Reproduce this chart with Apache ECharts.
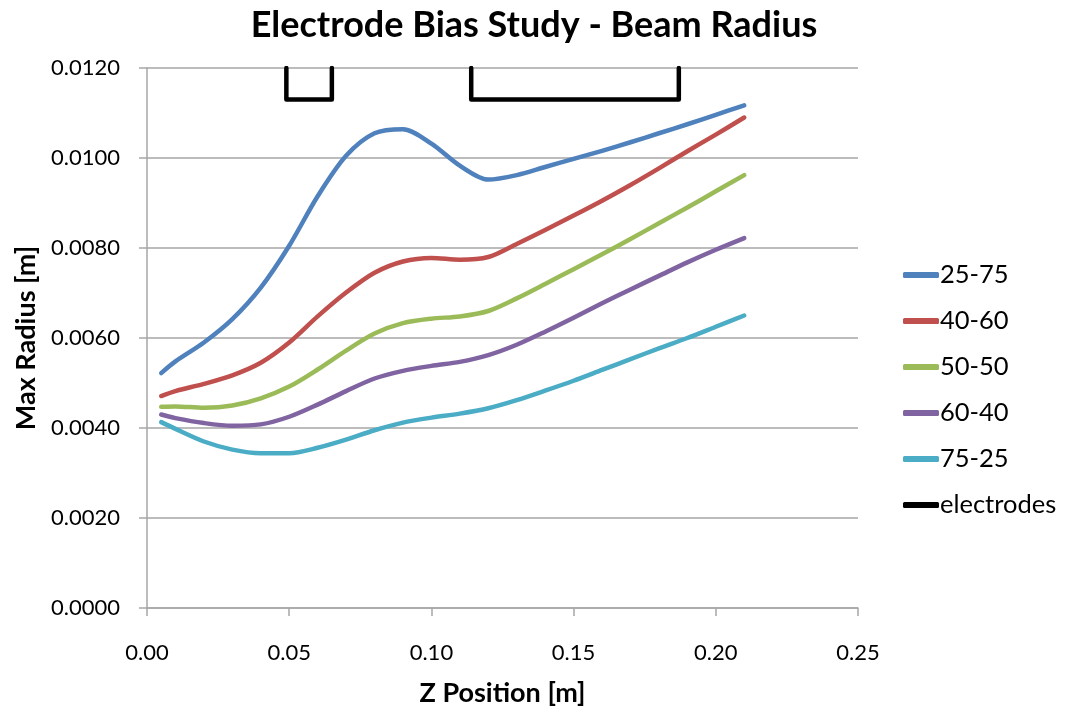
<!DOCTYPE html>
<html>
<head>
<meta charset="utf-8">
<script src="https://cdn.jsdelivr.net/npm/echarts@6/dist/echarts.min.js"></script>
<style>html,body{margin:0;padding:0;background:#fff}#c{width:1068px;height:713px}</style>
</head>
<body>
<div id="c"></div>
<script>
const zPos = [0.005, 0.01, 0.02, 0.03, 0.04, 0.05, 0.06, 0.07, 0.08, 0.09, 0.10, 0.11, 0.12, 0.13, 0.14, 0.15, 0.16, 0.17, 0.18, 0.19, 0.20, 0.21];
const s2575 = [0.00522, 0.00548, 0.0059, 0.00642, 0.00712, 0.00805, 0.00915, 0.01005, 0.01055, 0.01064, 0.01032, 0.00983, 0.00952, 0.00962, 0.0098, 0.00998, 0.01016, 0.01035, 0.01055, 0.01075, 0.01096, 0.01117];
const s4060 = [0.00471, 0.00482, 0.00498, 0.00517, 0.00545, 0.0059, 0.00648, 0.00701, 0.00745, 0.0077, 0.00778, 0.00774, 0.0078, 0.00809, 0.0084, 0.00872, 0.00905, 0.0094, 0.00977, 0.01015, 0.01052, 0.0109];
const s5050 = [0.00447, 0.00448, 0.00445, 0.0045, 0.00466, 0.00492, 0.0053, 0.00572, 0.0061, 0.00633, 0.00643, 0.00648, 0.0066, 0.00688, 0.0072, 0.00753, 0.00786, 0.0082, 0.00855, 0.0089, 0.00926, 0.00962];
const s6040 = [0.0043, 0.00422, 0.00411, 0.00405, 0.00408, 0.00425, 0.00452, 0.00482, 0.0051, 0.00527, 0.00538, 0.00547, 0.00562, 0.00585, 0.00614, 0.00645, 0.00677, 0.00708, 0.00738, 0.00768, 0.00796, 0.00822];
const s7525 = [0.00413, 0.00398, 0.0037, 0.00352, 0.00344, 0.00344, 0.00356, 0.00374, 0.00395, 0.00412, 0.00423, 0.00432, 0.00444, 0.00462, 0.00483, 0.00505, 0.00529, 0.00553, 0.00577, 0.006, 0.00625, 0.0065];
const electrodeX = [0.049, 0.049, 0.065, 0.065, null, 0.114, 0.114, 0.187, 0.187];
const electrodeY = [0.012, 0.0113, 0.0113, 0.012, null, 0.012, 0.0113, 0.0113, 0.012];
const seriesNames = ['25-75', '40-60', '50-50', '60-40', '75-25', 'electrodes'];
const colors = ['#4F81BD', '#C0504D', '#9BBB59', '#8064A2', '#4BACC6', '#000000'];

const FONT = 'Lato, "Open Sans", sans-serif';
const pair = (xs, ys) => xs.map((x, i) => [x, ys[i]]);
const curves = [s2575, s4060, s5050, s6040, s7525];

const series = curves.map((ys, i) => ({
  name: seriesNames[i], type: 'line', data: pair(zPos, ys), smooth: 0.3,
  symbol: 'none', lineStyle: { width: 4.5, color: colors[i], cap: 'round', join: 'round' },
  itemStyle: { color: colors[i] }
}));
series.push({
  name: seriesNames[5], type: 'line', data: electrodeX.map((x, i) => x === null ? '-' : [x, electrodeY[i]]),
  connectNulls: false, smooth: false, symbol: 'none',
  lineStyle: { width: 4.5, color: '#000', cap: 'round', join: 'round' }, itemStyle: { color: '#000' }
});

const chart = echarts.init(document.getElementById('c'), null, { renderer: 'canvas' });
chart.setOption({
  animation: false,
  backgroundColor: '#fff',
  color: colors,
  title: { text: 'Electrode Bias Study - Beam Radius', left: 'center', top: 2,
    textStyle: { fontFamily: FONT, fontWeight: 'bold', fontSize: 36, color: '#000' } },
  grid: { left: 147, top: 68, width: 711, height: 540, outerBoundsMode: 'none', containLabel: false },
  legend: {
    orient: 'vertical', left: 898, top: 257, itemWidth: 36, itemHeight: 6, itemGap: 20,
    icon: 'roundRect',
    data: seriesNames,
    textStyle: { fontFamily: FONT, fontSize: 25.5, color: '#000', padding: [0, 0, 0, -4] }
  },
  xAxis: {
    type: 'value', min: 0, max: 0.25, interval: 0.05,
    name: 'Z Position [m]', nameLocation: 'middle', nameGap: 72,
    nameTextStyle: { fontFamily: FONT, fontWeight: 'bold', fontSize: 27, color: '#000' },
    axisLine: { show: true, lineStyle: { color: '#a6a6a6', width: 1.5 } },
    axisTick: { show: true, length: 8, inside: false, lineStyle: { color: '#a6a6a6', width: 1.5 } },
    splitLine: { show: false },
    axisLabel: { fontFamily: FONT, fontSize: 22, color: '#000', margin: 34, formatter: v => v.toFixed(2) }
  },
  yAxis: {
    type: 'value', min: 0, max: 0.012, interval: 0.002,
    name: 'Max Radius [m]', nameLocation: 'middle', nameGap: 106,
    nameTextStyle: { fontFamily: FONT, fontWeight: 'bold', fontSize: 27, color: '#000' },
    axisLine: { show: true, lineStyle: { color: '#a6a6a6', width: 1.5 } },
    axisTick: { show: true, length: 8, inside: false, lineStyle: { color: '#a6a6a6', width: 1.5 } },
    splitLine: { show: true, lineStyle: { color: '#a6a6a6', width: 1.5 } },
    axisLabel: { fontFamily: FONT, fontSize: 22, color: '#000', margin: 27, formatter: v => v.toFixed(4) }
  },
  series: series
});
</script>
</body>
</html>
